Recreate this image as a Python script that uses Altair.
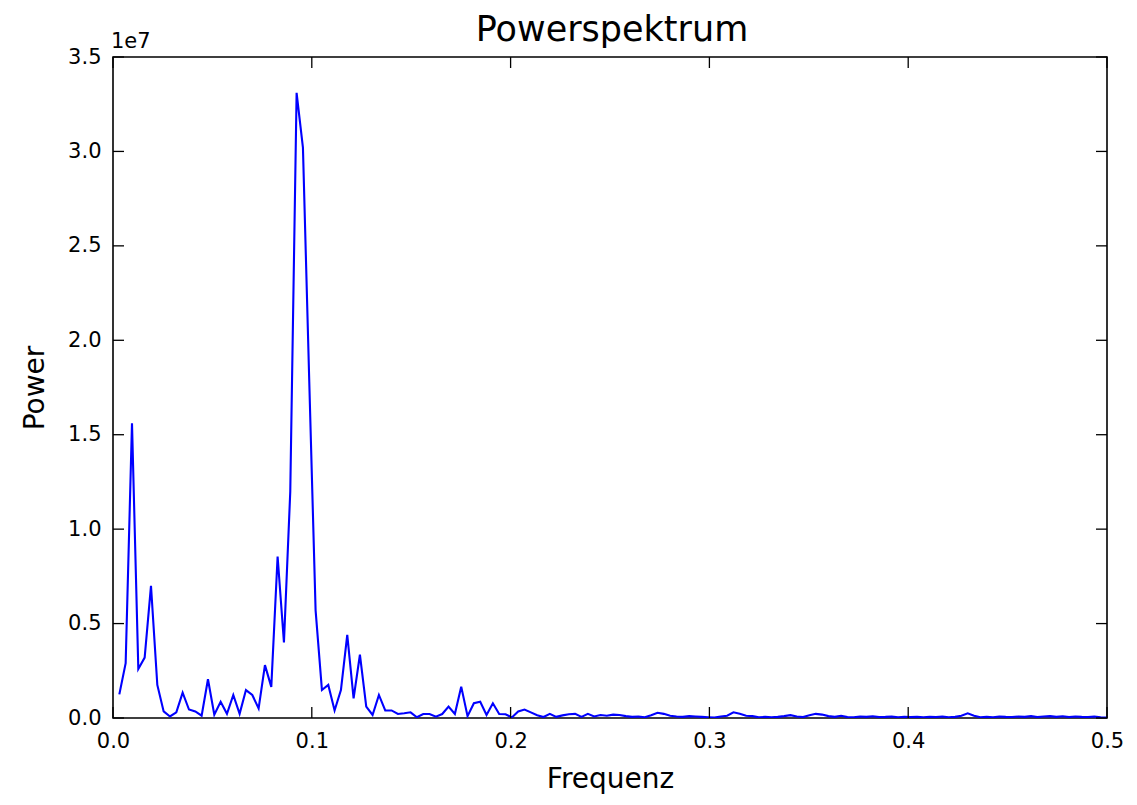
import altair as alt
import pandas as pd

# Power values in units of 1e7, one per frequency bin k = 1..157 (freq = k/314)
power_e7 = [
    0.125, 0.29, 1.56, 0.26, 0.32, 0.70, 0.175, 0.035, 0.008, 0.03,
    0.134, 0.045, 0.035, 0.012, 0.205, 0.018, 0.086, 0.022, 0.122, 0.022,
    0.148, 0.122, 0.051, 0.28, 0.165, 0.855, 0.40, 1.2, 3.31, 3.02,
    1.78, 0.57, 0.148, 0.175, 0.04, 0.148, 0.44, 0.104, 0.335, 0.06,
    0.016, 0.122, 0.04, 0.04, 0.021, 0.025, 0.03, 0.004, 0.021, 0.021,
    0.007, 0.021, 0.06, 0.021, 0.166, 0.01, 0.078, 0.086, 0.016, 0.078,
    0.021, 0.02, 0.003, 0.035, 0.045, 0.03, 0.015, 0.005, 0.022, 0.006,
    0.014, 0.02, 0.022, 0.006, 0.022, 0.008, 0.016, 0.012, 0.018, 0.016,
    0.01, 0.006, 0.008, 0.004, 0.015, 0.028, 0.022, 0.012, 0.008, 0.006,
    0.01, 0.008, 0.006, 0.004, 0.002, 0.008, 0.012, 0.03, 0.022, 0.012,
    0.01, 0.004, 0.006, 0.004, 0.006, 0.01, 0.015, 0.008, 0.005, 0.015,
    0.022, 0.018, 0.01, 0.006, 0.012, 0.005, 0.004, 0.008, 0.006, 0.009,
    0.005, 0.006, 0.008, 0.004, 0.006, 0.005, 0.007, 0.004, 0.006, 0.005,
    0.008, 0.004, 0.006, 0.012, 0.025, 0.012, 0.004, 0.006, 0.004, 0.008,
    0.006, 0.005, 0.008, 0.006, 0.01, 0.005, 0.008, 0.01, 0.006, 0.009,
    0.005, 0.008, 0.006, 0.005, 0.008, 0.004, 0.003,
]
n_samples = 314
bins = list(range(1, len(power_e7) + 1))

x_ticks = [0.0, 0.1, 0.2, 0.3, 0.4, 0.5]
y_ticks = [0.0, 0.5e7, 1.0e7, 1.5e7, 2.0e7, 2.5e7, 3.0e7, 3.5e7]

title_text = "Powerspektrum"
x_title = "Frequenz"
y_title = "Power"
exponent_text = "1e7"

W, H = 994, 661
TICK = 11
FONT = "DejaVu Sans"

df = pd.DataFrame({
    "Frequenz": [k / n_samples for k in bins],
    "Power": [v * 1e7 for v in power_e7],
})
xt = pd.DataFrame({"t": x_ticks})
yt = pd.DataFrame({"t": y_ticks})

xscale = alt.Scale(domain=[0, 0.5], nice=False, zero=False)
yscale = alt.Scale(domain=[0, 3.5e7], nice=False)

line = alt.Chart(df).mark_line(color="#0000ff", strokeWidth=2.1, clip=True).encode(
    x=alt.X("Frequenz:Q", scale=xscale,
            axis=alt.Axis(values=x_ticks, format=".1f", title=x_title,
                          domain=False, ticks=False, grid=False,
                          labelFlush=False, labelOverlap=False,
                          labelPadding=12, titlePadding=14,
                          labelFontSize=21, titleFontSize=28,
                          labelFont=FONT, titleFont=FONT, titleFontWeight="normal",
                          labelColor="black", titleColor="black")),
    y=alt.Y("Power:Q", scale=yscale,
            axis=alt.Axis(values=y_ticks, labelExpr="format(datum.value / 1e7, '.1f')",
                          title=y_title, domain=False, ticks=False, grid=False,
                          labelFlush=False, labelOverlap=False,
                          labelPadding=12, titlePadding=18,
                          labelFontSize=21, titleFontSize=28,
                          labelFont=FONT, titleFont=FONT, titleFontWeight="normal",
                          labelColor="black", titleColor="black")),
)

tick_style = dict(color="black", strokeWidth=1.3)
xb = alt.Chart(xt).mark_rule(**tick_style).encode(
    x=alt.X("t:Q", scale=xscale), y=alt.value(H), y2=alt.value(H - TICK))
xtop = alt.Chart(xt).mark_rule(**tick_style).encode(
    x=alt.X("t:Q", scale=xscale), y=alt.value(0), y2=alt.value(TICK))
yl = alt.Chart(yt).mark_rule(**tick_style).encode(
    y=alt.Y("t:Q", scale=yscale), x=alt.value(0), x2=alt.value(TICK))
yr = alt.Chart(yt).mark_rule(**tick_style).encode(
    y=alt.Y("t:Q", scale=yscale), x=alt.value(W), x2=alt.value(W - TICK))

exp = alt.Chart(pd.DataFrame({"txt": [exponent_text]})).mark_text(
    align="left", baseline="alphabetic", fontSize=21, font=FONT, color="black"
).encode(text="txt:N", x=alt.value(-2), y=alt.value(-9))

ttl = alt.Chart(pd.DataFrame({"txt": [title_text]})).mark_text(
    align="center", baseline="alphabetic", fontSize=35, font=FONT, color="black"
).encode(text="txt:N", x=alt.value(W / 2 + 2), y=alt.value(-16))

chart = alt.layer(line, xb, xtop, yl, yr, exp, ttl).properties(
    width=W, height=H,
    padding={"left": 105, "top": 49, "right": 22, "bottom": 79},
    autosize=alt.AutoSizeParams(type="none"),
).configure(
    background="white",
    view=alt.ViewConfig(stroke="black", strokeWidth=1.6),
)

chart.save("out.html", embed_options={"renderer": "svg", "actions": False})
